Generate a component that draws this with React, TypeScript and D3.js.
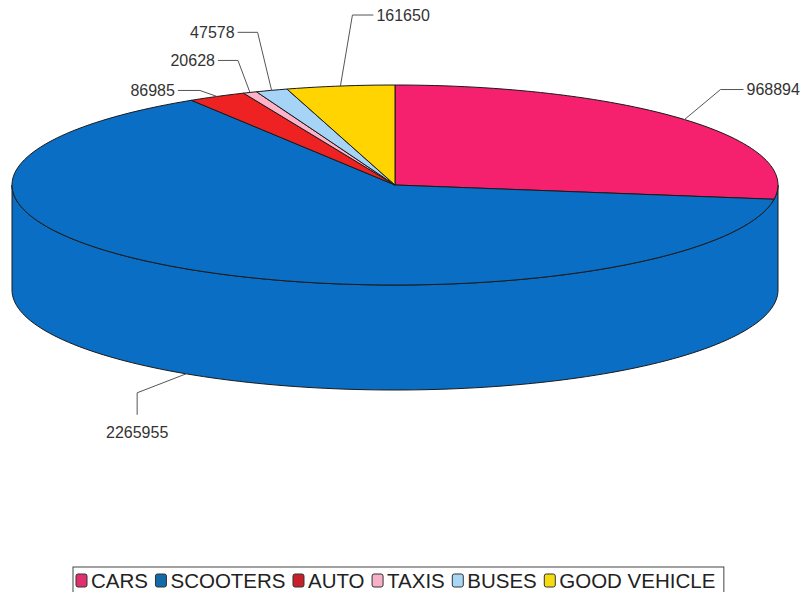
import { useMemo } from "react";
import * as d3 from "d3";

// vehicle categories and counts
const categories = ["CARS", "SCOOTERS", "AUTO", "TAXIS", "BUSES", "GOOD VEHICLE"];
const counts = [968894, 2265955, 86985, 20628, 47578, 161650];
const colors = ["#f5206e", "#0a6ec4", "#ee2222", "#ffb3c9", "#a6d4f7", "#ffd400"];
const legendColors = ["#e0306f", "#1469a8", "#c8202a", "#f7b0c8", "#a8d6f5", "#f5dc10"];

const W = 804;
const H = 592;

// label leader layout: elbow offset from anchor, horizontal tail
const leaders = [
  { dx: 36, dy: -30, tail: 23, bottom: false },
  { dx: -49, dy: 19, tail: 0, bottom: true },
  { dx: -17, dy: -6, tail: -22, bottom: false },
  { dx: -12, dy: -32, tail: -20, bottom: false },
  { dx: -14, dy: -58, tail: -20, bottom: false },
  { dx: 12, dy: -71, tail: 21, bottom: false },
];

function measure(text: string, font: string) {
  const ctx = document.createElement("canvas").getContext("2d");
  if (!ctx) return text.length * 12;
  ctx.font = font;
  return ctx.measureText(text).width;
}

export default function App() {
  const cx = 395, cy = 185, rx = 383, ry = 100, depth = 105;

  const arcs = useMemo(
    () => d3.pie<number>().sort(null).startAngle(0).endAngle(2 * Math.PI)(counts),
    []
  );

  const px = (a: number) => cx + rx * Math.sin(a);
  const py = (a: number) => cy - ry * Math.cos(a);

  const line = d3.line<[number, number]>();

  const arcPts = (a0: number, a1: number, dy = 0) => {
    const n = Math.max(2, Math.ceil(((a1 - a0) / (2 * Math.PI)) * 240));
    return d3.range(n + 1).map((i) => {
      const a = a0 + ((a1 - a0) * i) / n;
      return [px(a), py(a) + dy] as [number, number];
    });
  };

  // front wall: the scooters wall wraps the whole visible side
  const sides = arcs
    .map((d, i) => {
      const a0 = Math.max(d.startAngle, Math.PI / 2);
      const a1 = Math.min(d.endAngle, (3 * Math.PI) / 2);
      if (a0 >= a1 || a1 - a0 < 0.2) return null;
      const top = arcPts(Math.PI / 2, a1);
      const bot = arcPts(Math.PI / 2, a1, depth).reverse();
      return { i, d: line([...top, ...bot])! + "Z" };
    })
    .filter(Boolean) as { i: number; d: string }[];

  const tops = arcs.map((d, i) => ({
    i,
    d: line([[cx, cy], ...arcPts(d.startAngle, d.endAngle)])! + "Z",
  }));

  const labels = arcs.map((d, i) => {
    const mid = (d.startAngle + d.endAngle) / 2;
    const L = leaders[i];
    const ax = px(mid);
    const ay = py(mid) + (L.bottom ? depth : 0);
    const ex = ax + L.dx;
    const ey = ay + L.dy;
    if (L.bottom) {
      return {
        path: line([[ax, ay], [ex, ey], [ex, ey + 22]])!,
        x: ex, y: ey + 45, anchor: "middle", text: String(counts[i]),
      };
    }
    const tx = ex + L.tail;
    return {
      path: line([[ax, ay], [ex, ey], [tx, ey]])!,
      x: tx + (L.tail >= 0 ? 3 : -3),
      y: ey + 5.5,
      anchor: L.tail >= 0 ? "start" : "end",
      text: String(counts[i]),
    };
  });

  // legend layout
  const legendFont = "20.5px 'Liberation Sans', Arial, sans-serif";
  let lx = 76;
  const legend = categories.map((c, i) => {
    const w = measure(c, legendFont);
    const item = { x: lx, c, i, w };
    lx += 11 + 4 + w + 7.5;
    return item;
  });

  return (
    <div style={{ position: "absolute", left: 0, top: 0 }}>
      <svg width={W} height={H} style={{ display: "block", background: "#fff" }}>
        <g>
          {sides.map((s) => (
            <path key={"s" + s.i} d={s.d} fill={colors[s.i]} stroke="#1a1a1a" strokeWidth={1} strokeLinejoin="round" />
          ))}
          {tops.map((t) => (
            <path key={"t" + t.i} d={t.d} fill={colors[t.i]} stroke="#1a1a1a" strokeWidth={1} strokeLinejoin="round" />
          ))}
        </g>
        <g fontFamily="'Liberation Sans', Arial, sans-serif" fontSize={16} fill="#333">
          {labels.map((l, i) => (
            <g key={"l" + i}>
              <path d={l.path} fill="none" stroke="#555" strokeWidth={1} />
              <text x={l.x} y={l.y} textAnchor={l.anchor as any}>{l.text}</text>
            </g>
          ))}
        </g>
        <g>
          <rect x={73} y={567} width={lx - 73 + 1} height={32} fill="#fff" stroke="#444" strokeWidth={1} />
          {legend.map((it) => (
            <g key={it.c}>
              <rect x={it.x} y={574} width={11} height={13} rx={2} fill={legendColors[it.i]} stroke="#333" strokeWidth={1} />
              <text
                x={it.x + 15}
                y={588}
                fontFamily="'Liberation Sans', Arial, sans-serif"
                fontSize={20.5}
                fill="#222"
              >
                {it.c}
              </text>
            </g>
          ))}
        </g>
      </svg>
    </div>
  );
}
